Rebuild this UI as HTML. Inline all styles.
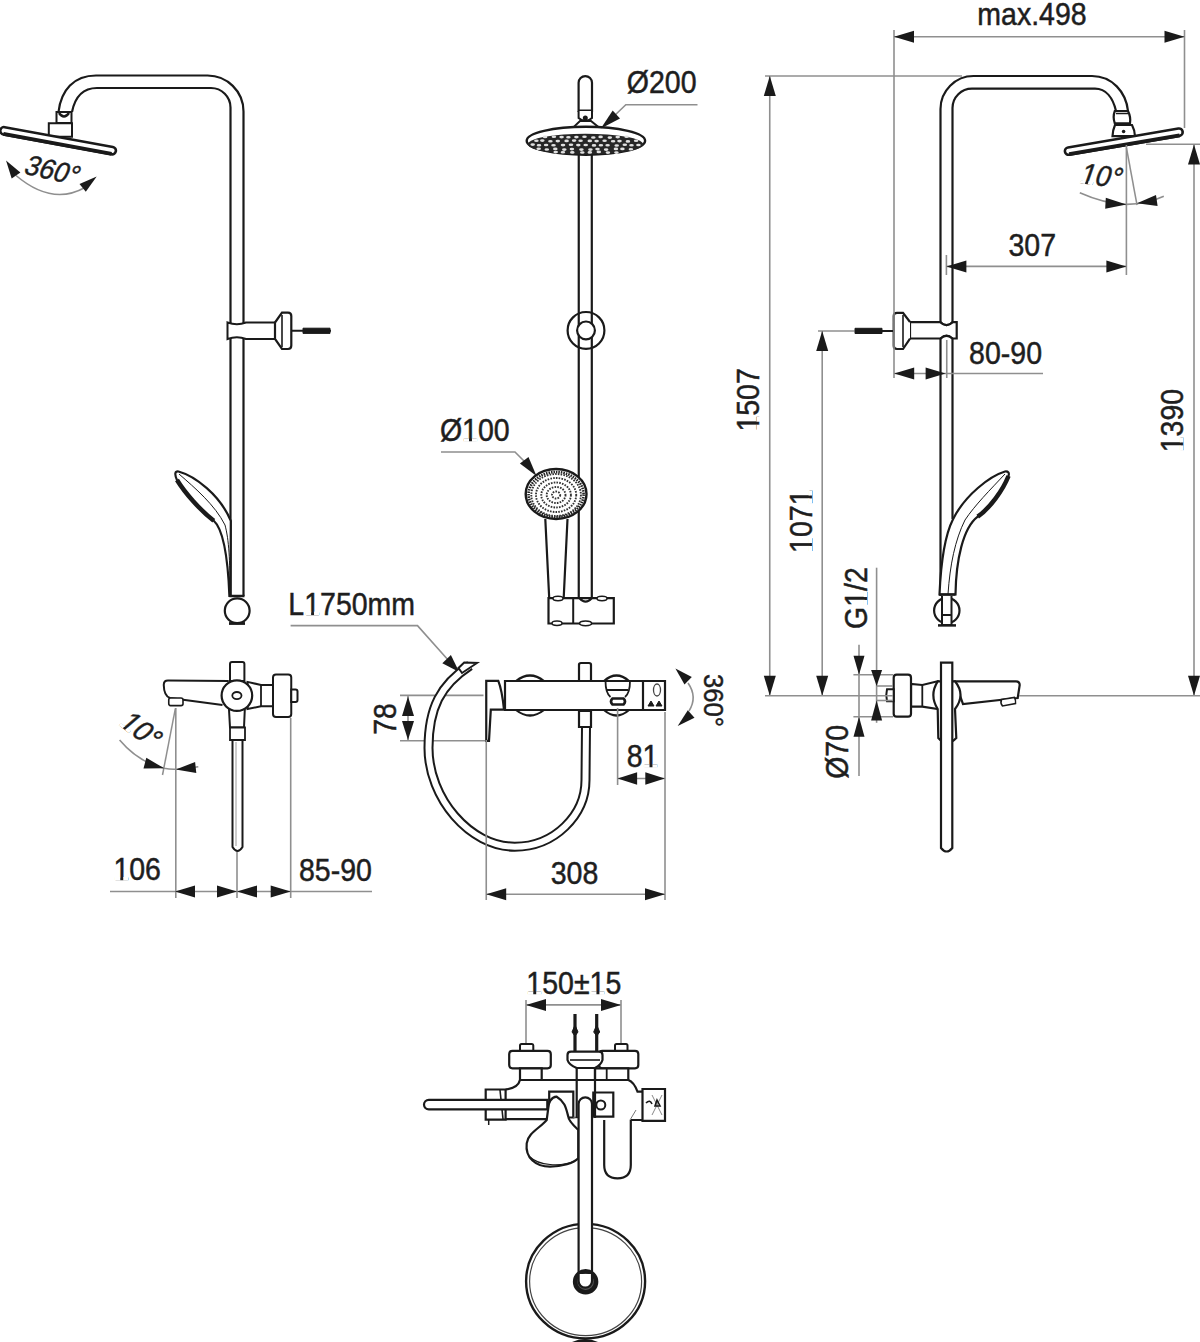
<!DOCTYPE html>
<html><head><meta charset="utf-8"><style>
html,body{margin:0;padding:0;background:#fff;}
svg{display:block;}
text{font-family:"Liberation Sans",sans-serif;fill:#1e1e1e;stroke:#1e1e1e;stroke-width:0.45px;}
</style></head><body>
<svg width="1200" height="1342" viewBox="0 0 1200 1342">
<rect width="1200" height="1342" fill="#fff"/>
<path d="M58.5,112 C61,90 74,75.5 96,75.5 L207,75.5 A36,36 0 0 1 243.5,111.5 L243.5,596" stroke="#1a1a1a" stroke-width="2.2" fill="none" />
<path d="M72,112 C75,97 83,88 97,88 L211,88 A19.5,19.5 0 0 1 230.5,107.5 L230.5,596" stroke="#1a1a1a" stroke-width="2.2" fill="none" />
<path d="M56.5,112 L71.5,112 L71.5,123 L56.5,123 Z" stroke="#1a1a1a" stroke-width="2" fill="#fff" />
<path d="M59,113 Q64,120 69,113" stroke="#1a1a1a" stroke-width="2.5" fill="none" />
<path d="M48.8,123.3 L72,123.3 L72,136.8 L48.8,136.8 Z" stroke="#1a1a1a" stroke-width="2" fill="#fff" />
<g transform="translate(4,130.8) rotate(10.4)">
<path d="M0,-3.7 L110,-3.7 A3.7,3.7 0 0 1 110,3.7 L0,3.7 A3.7,3.7 0 0 1 0,-3.7 Z" stroke="#1a1a1a" stroke-width="2.6" fill="#fff" />
<path d="M0,3.2 L110,3.2" stroke="#1a1a1a" stroke-width="3.8" fill="none" />
</g>
<path d="M16,175.5 Q52,206 85,187.5" stroke="#8f8f8f" stroke-width="1.6" fill="none" />
<polygon points="6.0,160.6 20.4,172.6 11.7,178.5" fill="#1a1a1a"/>
<polygon points="96.7,176.6 85.8,191.8 79.5,184.0" fill="#1a1a1a"/>
<g transform="translate(48.88,179.40) rotate(13) scale(0.92,0.9936000000000001) skewX(-12)"><text x="0" y="0" font-size="28.5" text-anchor="middle">360°</text></g>
<path d="M227.5,322.5 Q237,326 246,322.5 L275,322.5 L275,339 L246,339 Q237,335.5 227.5,339 Z" stroke="#1a1a1a" stroke-width="2" fill="#fff" />
<path d="M275,322.5 L282,312.6 L288,312.6 Q291.3,312.6 291.3,316 L291.3,345.6 Q291.3,349 288,349 L282,349 L275,339 Z" stroke="#1a1a1a" stroke-width="2.2" fill="#fff" />
<path d="M282,315 L282,347" stroke="#1a1a1a" stroke-width="1.6" fill="none" />
<line x1="291.3" y1="330.8" x2="331" y2="330.8" stroke="#1a1a1a" stroke-width="2"/>
<path d="M303,328.2 L330,328.2 L330,333.4 L303,333.4 Z" stroke="#1a1a1a" stroke-width="1" fill="#1a1a1a" />
<path d="M229.4,596 C228,560 224,530 213.8,520.8 C200,510 185,493 177,480 Q173,471 178.5,471.5 C195,476 220,495 230.8,520.8 L230.5,596 Z" stroke="#1a1a1a" stroke-width="2.2" fill="#fff" />
<path d="M177,480 C185,493 200,510 213.8,520.8" stroke="#1a1a1a" stroke-width="4.5" fill="none" />
<path d="M179,474 C195,488 215,505 225,525 C229,540 230,560 230,592" stroke="#1a1a1a" stroke-width="1" fill="none" />
<path d="M229.4,596 L244.5,596" stroke="#1a1a1a" stroke-width="2.5" fill="none" />
<circle cx="237.2" cy="610.8" r="12.4" stroke="#1a1a1a" stroke-width="2.2" fill="#fff"/>
<path d="M229,623.5 L245,623.5" stroke="#1a1a1a" stroke-width="2.8" fill="none" />
<path d="M228.75,681 L168,680.6 Q163.75,680.6 163.75,685 Q164,696 170,698 L222.5,705" stroke="#1a1a1a" stroke-width="2" fill="#fff" />
<path d="M170.5,698 L181,698 Q183,698 183,700 L183,704 Q183,705.6 181,705.6 L170.5,705.6 Q168.75,705.6 168.75,703.6 L168.75,700 Q168.75,698 170.5,698 Z" stroke="#1a1a1a" stroke-width="1.6" fill="#fff" />
<path d="M232,661.9 L242.4,661.9 Q244.4,661.9 244.4,664 L244.4,681 L230,681 L230,664 Q230,661.9 232,661.9 Z" stroke="#1a1a1a" stroke-width="2" fill="#fff" />
<path d="M228.75,705 L230,727.5 L244,727.5 L245,705 Z" stroke="#1a1a1a" stroke-width="2" fill="#fff" />
<path d="M230,727.5 L245,727.5 L245,740 L230,740 Z" stroke="#1a1a1a" stroke-width="1.8" fill="#fff" />
<path d="M232.5,740 L242.5,740 L242.5,847 Q237.5,855 232.5,847 Z" stroke="#1a1a1a" stroke-width="2" fill="#fff" />
<line x1="236" y1="742" x2="236" y2="846" stroke="#aaa" stroke-width="1.2"/>
<path d="M247.5,681.9 L261,685 L273,685 L273,706.25 L261,706.25 L247.5,709 Z" stroke="#1a1a1a" stroke-width="2" fill="#fff" />
<path d="M261,685 L261,706.25" stroke="#1a1a1a" stroke-width="1.8" fill="none" />
<path d="M276,674.4 L288.25,674.4 Q291.25,674.4 291.25,677.4 L291.25,713.9 Q291.25,716.9 288.25,716.9 L276,716.9 Q273,716.9 273,713.9 L273,677.4 Q273,674.4 276,674.4 Z" stroke="#1a1a1a" stroke-width="2" fill="#fff" />
<path d="M291.25,689.4 L295.5,689.4 Q297.5,689.4 297.5,691.4 L297.5,699.9 Q297.5,701.9 295.5,701.9 L291.25,701.9 Z" stroke="#1a1a1a" stroke-width="2" fill="#fff" />
<circle cx="236.9" cy="695.6" r="15.3" stroke="#1a1a1a" stroke-width="2.2" fill="#fff"/>
<ellipse cx="236.9" cy="695.6" rx="4.6" ry="3.6" stroke="#1a1a1a" stroke-width="1.8" fill="#fff"/>
<line x1="175.4" y1="708.3" x2="162.5" y2="775" stroke="#8f8f8f" stroke-width="1.5"/>
<path d="M119.6,740 Q138,762 164.2,768.3 Q170,769.5 176.7,769.2 Q188,768.5 198.3,766.7" stroke="#8f8f8f" stroke-width="1.6" fill="none" />
<polygon points="164.2,768.3 143.5,768.4 146.3,757.8" fill="#1a1a1a"/>
<polygon points="175.8,769.6 195.1,762.0 196.3,773.0" fill="#1a1a1a"/>
<g transform="translate(133.99,736.57) rotate(38) scale(0.95,1.026) skewX(-12)"><text x="0" y="0" font-size="28.5" text-anchor="middle">10°</text><rect x="-20.13" y="-2.74" width="5.50" height="3.24" fill="#fff"/><rect x="-11.69" y="-2.74" width="5.13" height="3.24" fill="#fff"/></g>
<line x1="175.8" y1="708" x2="175.8" y2="898" stroke="#8f8f8f" stroke-width="1.6"/>
<line x1="237" y1="852" x2="237" y2="898" stroke="#8f8f8f" stroke-width="1.6"/>
<line x1="290.7" y1="718" x2="290.7" y2="898" stroke="#8f8f8f" stroke-width="1.6"/>
<line x1="110" y1="891.5" x2="372" y2="891.5" stroke="#8f8f8f" stroke-width="1.6"/>
<polygon points="175.0,891.5 195.0,885.5 195.0,897.5" fill="#1a1a1a"/>
<polygon points="237.0,891.5 217.0,897.5 217.0,885.5" fill="#1a1a1a"/>
<polygon points="237.0,891.5 257.0,885.5 257.0,897.5" fill="#1a1a1a"/>
<polygon points="290.7,891.5 270.7,897.5 270.7,885.5" fill="#1a1a1a"/>
<g transform="translate(137.15,879.95) rotate(0) scale(1.0,1.08)"><text x="0" y="0" font-size="28.5" text-anchor="middle">106</text><rect x="-22.36" y="-2.74" width="5.50" height="3.24" fill="#fff"/><rect x="-13.92" y="-2.74" width="5.13" height="3.24" fill="#fff"/></g>
<g transform="translate(335.40,880.50) rotate(0) scale(1.0,1.08)"><text x="0" y="0" font-size="28.5" text-anchor="middle">85-90</text></g>
<path d="M578.6,111 L578.6,82.8 A6.7,6.7 0 0 1 592,82.8 L592,111 Z" stroke="#1a1a1a" stroke-width="2.2" fill="#fff" />
<path d="M578.6,111 L592,111" stroke="#1a1a1a" stroke-width="3" fill="none" />
<path d="M578.6,111 L578.6,118 Q585.3,124 592,118 L592,111" stroke="#1a1a1a" stroke-width="2" fill="#fff" />
<circle cx="585.3" cy="118" r="2.5" fill="#1a1a1a"/>
<path d="M580,121 L591,121 L599,127.4 L573.3,127.4 Z" stroke="#1a1a1a" stroke-width="2" fill="#fff" />
<ellipse cx="585.9" cy="140.8" rx="59.2" ry="14" stroke="#1a1a1a" stroke-width="2.4" fill="#fff"/>
<ellipse cx="585.5" cy="144.2" rx="57.6" ry="10.4" fill="#262626"/>
<g fill="#e0e0e0">
<ellipse cx="545.1" cy="136.9" rx="2.3" ry="1.3"/>
<ellipse cx="553.9" cy="136.8" rx="2.3" ry="1.3"/>
<ellipse cx="561.6" cy="137.1" rx="2.3" ry="1.3"/>
<ellipse cx="568.4" cy="137.2" rx="2.3" ry="1.3"/>
<ellipse cx="576.4" cy="137.1" rx="2.3" ry="1.3"/>
<ellipse cx="584.5" cy="136.8" rx="2.3" ry="1.3"/>
<ellipse cx="593.3" cy="137.5" rx="2.3" ry="1.3"/>
<ellipse cx="600.6" cy="136.9" rx="2.3" ry="1.3"/>
<ellipse cx="609.8" cy="137.6" rx="2.3" ry="1.3"/>
<ellipse cx="617.7" cy="137.1" rx="2.3" ry="1.3"/>
<ellipse cx="626.6" cy="136.7" rx="2.3" ry="1.3"/>
<ellipse cx="536.4" cy="140.8" rx="2.3" ry="1.3"/>
<ellipse cx="542.3" cy="140.6" rx="2.3" ry="1.3"/>
<ellipse cx="550.4" cy="141.3" rx="2.3" ry="1.3"/>
<ellipse cx="557.8" cy="141.1" rx="2.3" ry="1.3"/>
<ellipse cx="566.6" cy="140.9" rx="2.3" ry="1.3"/>
<ellipse cx="574.1" cy="140.6" rx="2.3" ry="1.3"/>
<ellipse cx="580.6" cy="140.7" rx="2.3" ry="1.3"/>
<ellipse cx="589.8" cy="140.9" rx="2.3" ry="1.3"/>
<ellipse cx="596.6" cy="141.1" rx="2.3" ry="1.3"/>
<ellipse cx="604.6" cy="140.8" rx="2.3" ry="1.3"/>
<ellipse cx="613.1" cy="141.2" rx="2.3" ry="1.3"/>
<ellipse cx="619.5" cy="141.1" rx="2.3" ry="1.3"/>
<ellipse cx="627.9" cy="141.4" rx="2.3" ry="1.3"/>
<ellipse cx="636.1" cy="140.8" rx="2.3" ry="1.3"/>
<ellipse cx="532.7" cy="144.6" rx="2.3" ry="1.3"/>
<ellipse cx="539.0" cy="145.3" rx="2.3" ry="1.3"/>
<ellipse cx="546.1" cy="145.0" rx="2.3" ry="1.3"/>
<ellipse cx="553.5" cy="145.2" rx="2.3" ry="1.3"/>
<ellipse cx="563.0" cy="145.1" rx="2.3" ry="1.3"/>
<ellipse cx="571.0" cy="144.8" rx="2.3" ry="1.3"/>
<ellipse cx="578.3" cy="145.1" rx="2.3" ry="1.3"/>
<ellipse cx="585.7" cy="145.0" rx="2.3" ry="1.3"/>
<ellipse cx="594.0" cy="145.4" rx="2.3" ry="1.3"/>
<ellipse cx="600.9" cy="145.2" rx="2.3" ry="1.3"/>
<ellipse cx="607.6" cy="145.2" rx="2.3" ry="1.3"/>
<ellipse cx="616.7" cy="145.5" rx="2.3" ry="1.3"/>
<ellipse cx="624.8" cy="144.8" rx="2.3" ry="1.3"/>
<ellipse cx="631.5" cy="145.2" rx="2.3" ry="1.3"/>
<ellipse cx="638.4" cy="145.0" rx="2.3" ry="1.3"/>
<ellipse cx="538.7" cy="148.8" rx="2.3" ry="1.3"/>
<ellipse cx="546.8" cy="149.5" rx="2.3" ry="1.3"/>
<ellipse cx="555.3" cy="148.9" rx="2.3" ry="1.3"/>
<ellipse cx="564.3" cy="149.6" rx="2.3" ry="1.3"/>
<ellipse cx="571.9" cy="149.1" rx="2.3" ry="1.3"/>
<ellipse cx="581.4" cy="149.6" rx="2.3" ry="1.3"/>
<ellipse cx="590.4" cy="149.6" rx="2.3" ry="1.3"/>
<ellipse cx="597.5" cy="149.1" rx="2.3" ry="1.3"/>
<ellipse cx="606.1" cy="149.6" rx="2.3" ry="1.3"/>
<ellipse cx="615.9" cy="148.9" rx="2.3" ry="1.3"/>
<ellipse cx="622.4" cy="148.9" rx="2.3" ry="1.3"/>
<ellipse cx="630.9" cy="149.2" rx="2.3" ry="1.3"/>
<ellipse cx="555.7" cy="152.1" rx="2.3" ry="1.3"/>
<ellipse cx="562.9" cy="152.2" rx="2.3" ry="1.3"/>
<ellipse cx="572.3" cy="152.4" rx="2.3" ry="1.3"/>
<ellipse cx="582.3" cy="152.5" rx="2.3" ry="1.3"/>
<ellipse cx="589.8" cy="152.4" rx="2.3" ry="1.3"/>
<ellipse cx="598.8" cy="151.9" rx="2.3" ry="1.3"/>
<ellipse cx="607.9" cy="152.6" rx="2.3" ry="1.3"/>
<ellipse cx="616.4" cy="152.6" rx="2.3" ry="1.3"/>
</g>
<path d="M578.75,155 L578.75,599 M591.8,155 L591.8,599" stroke="#1a1a1a" stroke-width="2.2" fill="none" />
<circle cx="586" cy="330.4" r="18.4" stroke="#1a1a1a" stroke-width="2.2" fill="none"/>
<circle cx="586" cy="330.4" r="8.9" stroke="#1a1a1a" stroke-width="2.2" fill="#fff"/>
<g transform="translate(661.70,93.10) rotate(0) scale(1.0,1.08)"><text x="0" y="0" font-size="28.5" text-anchor="middle">Ø200</text></g>
<path d="M697.5,104.7 L625.8,104.7 L612,118" stroke="#8f8f8f" stroke-width="1.6" fill="none" />
<polygon points="600.8,128.6 612.7,110.5 620.0,118.6" fill="#1a1a1a"/>
<g transform="translate(474.80,441.25) rotate(0) scale(1.0,1.08)"><text x="0" y="0" font-size="28.5" text-anchor="middle">Ø100</text><rect x="-11.29" y="-2.74" width="5.50" height="3.24" fill="#fff"/><rect x="-2.85" y="-2.74" width="5.13" height="3.24" fill="#fff"/></g>
<path d="M441,452 L515,452 L530,467" stroke="#8f8f8f" stroke-width="1.6" fill="none" />
<polygon points="536.5,476.0 519.9,463.6 528.5,456.9" fill="#1a1a1a"/>
<path d="M545.3,519 L549.2,598 M567.5,519 L563.7,598" stroke="#1a1a1a" stroke-width="2.2" fill="none" />
<ellipse cx="556.1" cy="494" rx="30.4" ry="25" stroke="#1a1a1a" stroke-width="2.4" fill="#fff"/>
<ellipse cx="556.1" cy="494.5" rx="27.5" ry="22.5" stroke="#222" stroke-width="2.6" stroke-dasharray="1.5 1" fill="none"/>
<ellipse cx="556.1" cy="495" rx="4.1" ry="3.5" stroke="#333" stroke-width="1.9" stroke-dasharray="1.6 1.2" fill="none"/>
<ellipse cx="556.1" cy="495" rx="9.4" ry="8.0" stroke="#333" stroke-width="1.9" stroke-dasharray="1.6 1.2" fill="none"/>
<ellipse cx="556.1" cy="495" rx="14.8" ry="12.5" stroke="#333" stroke-width="1.9" stroke-dasharray="1.6 1.2" fill="none"/>
<ellipse cx="556.1" cy="495" rx="20.1" ry="17.0" stroke="#333" stroke-width="1.9" stroke-dasharray="1.6 1.2" fill="none"/>
<ellipse cx="556.1" cy="495" rx="24.8" ry="21.0" stroke="#333" stroke-width="1.9" stroke-dasharray="1.6 1.2" fill="none"/>
<path d="M548.5,598.2 L613.8,598.2 L613.8,623.5 L548.5,623.5 Z" stroke="#1a1a1a" stroke-width="2.2" fill="#fff" />
<path d="M579.6,598.2 Q585.6,605 591.6,598.2" stroke="#1a1a1a" stroke-width="2.2" fill="none" />
<ellipse cx="558" cy="598.5" rx="5" ry="2.2" stroke="#1a1a1a" stroke-width="1.5" fill="#fff"/>
<ellipse cx="602" cy="598.5" rx="5" ry="2.2" stroke="#1a1a1a" stroke-width="1.5" fill="#fff"/>
<ellipse cx="557" cy="623.3" rx="5" ry="2.2" stroke="#1a1a1a" stroke-width="1.5" fill="#fff"/>
<ellipse cx="585.6" cy="623.3" rx="6" ry="2.4" stroke="#1a1a1a" stroke-width="1.5" fill="#fff"/>
<path d="M573.2,598.2 L573.2,623.5" stroke="#1a1a1a" stroke-width="2" fill="none" />
<path d="M940.5,596 L940.5,109 A33,33 0 0 1 973.5,76 L1092,76 C1112,76 1126,92 1128,111" stroke="#1a1a1a" stroke-width="2.2" fill="none" />
<path d="M952.5,519 L952.5,108 A19.5,19.5 0 0 1 972,88.7 L1095,88.7 C1106,88.7 1113,98 1116,111" stroke="#1a1a1a" stroke-width="2.2" fill="none" />
<path d="M1114.8,111 L1128,111 Q1131,117 1130,123.3 L1114.8,123.3 Q1112.5,117 1114.8,111 Z" stroke="#1a1a1a" stroke-width="2.2" fill="#fff" />
<path d="M1116,113.5 L1128,113.5" stroke="#1a1a1a" stroke-width="1.5" fill="none" />
<path d="M1115,125 L1132,125 Q1134.7,130 1135,136.2 L1112.5,136.2 Q1112.8,130 1115,125 Z" stroke="#1a1a1a" stroke-width="2.2" fill="#fff" />
<circle cx="1123.6" cy="131.5" r="1.8" fill="#1a1a1a"/>
<g transform="translate(1179,132.2) rotate(-9.7)">
<path d="M0,-3.7 L-112,-3.7 A3.7,3.7 0 0 0 -112,3.7 L0,3.7 A3.7,3.7 0 0 0 0,-3.7 Z" stroke="#1a1a1a" stroke-width="2.6" fill="#fff" />
<path d="M0,3.2 L-112,3.2" stroke="#1a1a1a" stroke-width="3.8" fill="none" />
</g>
<path d="M956.7,322.2 L952.5,322.2 Q946.5,328 940.5,322.2 L910,322.2 L910,338.5 L940.5,338.5 Q946.5,333 952.5,338.5 L956.7,338.5 Z" stroke="#1a1a1a" stroke-width="2.2" fill="#fff" />
<path d="M940.5,322.2 Q946.5,328 952.5,322.2 M940.5,338.5 Q946.5,333 952.5,338.5" stroke="#1a1a1a" stroke-width="2" fill="none" />
<path d="M910,322 L903,312.8 L897,312.8 Q893.7,312.8 893.7,316 L893.7,345.8 Q893.7,349 897,349 L903,349 L910,338.7" stroke="#1a1a1a" stroke-width="2.2" fill="#fff" />
<path d="M903,315 L903,347" stroke="#1a1a1a" stroke-width="1.6" fill="none" />
<line x1="854" y1="330.9" x2="893.7" y2="330.9" stroke="#1a1a1a" stroke-width="2"/>
<path d="M855,328.3 L882,328.3 L882,333.5 L855,333.5 Z" stroke="#1a1a1a" stroke-width="1" fill="#1a1a1a" />
<path d="M939.5,594.5 C941,560 945,535 952.9,519.4 C965,495 990,476 1005,471.5 Q1010,471 1008.5,476 C1003,490 990,508 977.7,516.7 C963,528 956,560 955.5,594.5 Z" stroke="#1a1a1a" stroke-width="2.2" fill="#fff" />
<path d="M1008.5,476 C1003,490 990,508 977.7,516.7" stroke="#1a1a1a" stroke-width="4.5" fill="none" />
<path d="M1005,474 C990,490 975,505 965,520 C955,540 950,565 948,594" stroke="#1a1a1a" stroke-width="1" fill="none" />
<path d="M939.5,594.5 L955.5,594.5" stroke="#1a1a1a" stroke-width="2.5" fill="none" />
<circle cx="946.8" cy="610.6" r="12.7" stroke="#1a1a1a" stroke-width="2.2" fill="#fff"/>
<path d="M942,596 L942,625 L951.5,625 L951.5,596 M942,615 L951.5,615" stroke="#1a1a1a" stroke-width="2" fill="#fff" />
<path d="M938,625.4 L956,625.4" stroke="#1a1a1a" stroke-width="2.5" fill="none" />
<path d="M955,681.3 L1016,681.3 Q1019.7,681.3 1019.7,685 L1017.7,698 L963,704 Z" stroke="#1a1a1a" stroke-width="2.2" fill="#fff" />
<path d="M1001.5,699.5 L1014.5,697.5 Q1016,700.5 1015.5,703.5 L1002.5,706 Q1000,703 1001.5,699.5 Z" stroke="#1a1a1a" stroke-width="1.6" fill="#fff" />
<path d="M937.7,681.3 L922.3,685 L911,684 L911,706.7 L922.3,706.7 L937.7,709 Z" stroke="#1a1a1a" stroke-width="2.2" fill="#fff" />
<path d="M922.3,685 L922.3,706.7" stroke="#1a1a1a" stroke-width="1.8" fill="none" />
<path d="M896.7,674.7 L908,674.7 Q911,674.7 911,677.7 L911,713.7 Q911,716.7 908,716.7 L896.7,716.7 Q893.7,716.7 893.7,713.7 L893.7,677.7 Q893.7,674.7 896.7,674.7 Z" stroke="#1a1a1a" stroke-width="2.2" fill="#fff" />
<path d="M887,689.3 L893.7,689.3 L893.7,701.3 L887,701.3 Q885.5,695.3 887,689.3 Z" stroke="#1a1a1a" stroke-width="2" fill="#fff" />
<path d="M937.7,681.3 Q929,695 937.7,709 L938.3,738 Q947,748 956.3,738 L955,709 Q966,695 955,681.3 Z" stroke="#1a1a1a" stroke-width="2.2" fill="#fff" />
<path d="M941,662.7 L952.3,662.7 L952.3,848 Q946.6,855 941,848 Z" stroke="#1a1a1a" stroke-width="2.2" fill="#fff" />
<line x1="894" y1="30" x2="894" y2="378" stroke="#8f8f8f" stroke-width="1.6"/>
<line x1="1184.5" y1="30" x2="1184.5" y2="128" stroke="#8f8f8f" stroke-width="1.6"/>
<line x1="894" y1="36.8" x2="1184.5" y2="36.8" stroke="#8f8f8f" stroke-width="1.6"/>
<polygon points="894.0,36.8 914.0,30.8 914.0,42.8" fill="#1a1a1a"/>
<polygon points="1184.5,36.8 1164.5,42.8 1164.5,30.8" fill="#1a1a1a"/>
<g transform="translate(1031.95,25.05) rotate(0) scale(1.0,1.08)"><text x="0" y="0" font-size="28.5" text-anchor="middle">max.498</text></g>
<line x1="765" y1="76" x2="962" y2="76" stroke="#8f8f8f" stroke-width="1.6"/>
<line x1="769.75" y1="76" x2="769.75" y2="695.8" stroke="#8f8f8f" stroke-width="1.6"/>
<polygon points="769.8,76.0 775.8,96.0 763.8,96.0" fill="#1a1a1a"/>
<polygon points="769.8,695.8 763.8,675.8 775.8,675.8" fill="#1a1a1a"/>
<g transform="translate(759.45,399.90) rotate(-90) scale(1.0,1.08)"><text x="0" y="0" font-size="28.5" text-anchor="middle">1507</text><rect x="-30.28" y="-2.74" width="5.50" height="3.24" fill="#fff"/><rect x="-21.84" y="-2.74" width="5.13" height="3.24" fill="#fff"/></g>
<line x1="818" y1="331" x2="855" y2="331" stroke="#8f8f8f" stroke-width="1.6"/>
<line x1="822.2" y1="331" x2="822.2" y2="695.8" stroke="#8f8f8f" stroke-width="1.6"/>
<polygon points="822.2,331.0 828.2,351.0 816.2,351.0" fill="#1a1a1a"/>
<polygon points="822.2,695.8 816.2,675.8 828.2,675.8" fill="#1a1a1a"/>
<g transform="translate(811.55,521.20) rotate(-90) scale(1.0,1.08)"><text x="0" y="0" font-size="28.5" text-anchor="middle">1071</text><rect x="-30.28" y="-2.74" width="5.50" height="3.24" fill="#fff"/><rect x="-21.84" y="-2.74" width="5.13" height="3.24" fill="#fff"/><rect x="17.27" y="-2.74" width="5.50" height="3.24" fill="#fff"/><rect x="25.70" y="-2.74" width="5.13" height="3.24" fill="#fff"/></g>
<line x1="1146" y1="144.3" x2="1200" y2="144.3" stroke="#8f8f8f" stroke-width="1.6"/>
<line x1="1194" y1="144.5" x2="1194" y2="695.8" stroke="#8f8f8f" stroke-width="1.6"/>
<polygon points="1194.0,144.5 1200.0,164.5 1188.0,164.5" fill="#1a1a1a"/>
<polygon points="1194.0,695.8 1188.0,675.8 1200.0,675.8" fill="#1a1a1a"/>
<g transform="translate(1182.80,420.60) rotate(-90) scale(1.0,1.08)"><text x="0" y="0" font-size="28.5" text-anchor="middle">1390</text><rect x="-30.28" y="-2.74" width="5.50" height="3.24" fill="#fff"/><rect x="-21.84" y="-2.74" width="5.13" height="3.24" fill="#fff"/></g>
<line x1="946.4" y1="255" x2="946.4" y2="275" stroke="#8f8f8f" stroke-width="1.6"/>
<line x1="1126.4" y1="145" x2="1126.4" y2="275" stroke="#8f8f8f" stroke-width="1.6"/>
<line x1="946.4" y1="266.4" x2="1126.4" y2="266.4" stroke="#8f8f8f" stroke-width="1.6"/>
<polygon points="946.4,266.4 966.4,260.4 966.4,272.4" fill="#1a1a1a"/>
<polygon points="1126.4,266.4 1106.4,272.4 1106.4,260.4" fill="#1a1a1a"/>
<g transform="translate(1032.25,256.00) rotate(0) scale(1.0,1.08)"><text x="0" y="0" font-size="28.5" text-anchor="middle">307</text></g>
<line x1="1126.5" y1="148" x2="1137" y2="205" stroke="#8f8f8f" stroke-width="1.5"/>
<path d="M1079.8,192.75 Q1105,204 1126.5,204.4 Q1147,204 1163.8,196.25" stroke="#8f8f8f" stroke-width="1.6" fill="none" />
<polygon points="1126.5,204.4 1105.2,208.8 1105.8,197.8" fill="#1a1a1a"/>
<polygon points="1137.0,203.2 1156.0,195.0 1157.6,205.9" fill="#1a1a1a"/>
<g transform="translate(1098.69,185.52) rotate(8) scale(0.95,1.026) skewX(-12)"><text x="0" y="0" font-size="28.5" text-anchor="middle">10°</text><rect x="-20.13" y="-2.74" width="5.50" height="3.24" fill="#fff"/><rect x="-11.69" y="-2.74" width="5.13" height="3.24" fill="#fff"/></g>
<line x1="946.75" y1="340" x2="946.75" y2="378" stroke="#8f8f8f" stroke-width="1.6"/>
<line x1="894.25" y1="373.5" x2="1043" y2="373.5" stroke="#8f8f8f" stroke-width="1.6"/>
<polygon points="894.2,373.5 914.2,367.5 914.2,379.5" fill="#1a1a1a"/>
<polygon points="945.6,373.5 925.6,379.5 925.6,367.5" fill="#1a1a1a"/>
<g transform="translate(1005.55,363.65) rotate(0) scale(1.0,1.08)"><text x="0" y="0" font-size="28.5" text-anchor="middle">80-90</text></g>
<line x1="765" y1="695.8" x2="893" y2="695.8" stroke="#8f8f8f" stroke-width="1.6"/>
<line x1="1019" y1="695.8" x2="1200" y2="695.8" stroke="#8f8f8f" stroke-width="1.6"/>
<line x1="859" y1="644.8" x2="859" y2="776" stroke="#8f8f8f" stroke-width="1.6"/>
<polygon points="859.0,674.8 853.5,655.8 864.5,655.8" fill="#1a1a1a"/>
<polygon points="859.0,716.8 864.5,736.8 853.5,736.8" fill="#1a1a1a"/>
<line x1="853.4" y1="674.8" x2="893" y2="674.8" stroke="#8f8f8f" stroke-width="1.6"/>
<line x1="853.4" y1="716.8" x2="893" y2="716.8" stroke="#8f8f8f" stroke-width="1.6"/>
<line x1="876" y1="686" x2="893" y2="686" stroke="#8f8f8f" stroke-width="1.6"/>
<line x1="876" y1="700.5" x2="893" y2="700.5" stroke="#8f8f8f" stroke-width="1.6"/>
<g transform="translate(847.95,751.90) rotate(-90) scale(1.0,1.08)"><text x="0" y="0" font-size="28.5" text-anchor="middle">Ø70</text></g>
<line x1="876.6" y1="567.7" x2="876.6" y2="722.8" stroke="#8f8f8f" stroke-width="1.6"/>
<polygon points="876.6,686.0 871.1,670.0 882.1,670.0" fill="#1a1a1a"/>
<polygon points="876.6,700.5 882.1,720.5 871.1,720.5" fill="#1a1a1a"/>
<g transform="translate(866.60,598.15) rotate(-90) scale(1.0,1.08)"><text x="0" y="0" font-size="28.5" text-anchor="middle">G1/2</text><rect x="-7.32" y="-2.74" width="5.50" height="3.24" fill="#fff"/><rect x="1.12" y="-2.74" width="5.13" height="3.24" fill="#fff"/></g>
<g transform="translate(351.70,614.60) rotate(0) scale(1.0,1.08)"><text x="0" y="0" font-size="28.5" text-anchor="middle">L1750mm</text><rect x="-46.10" y="-2.74" width="5.50" height="3.24" fill="#fff"/><rect x="-37.66" y="-2.74" width="5.13" height="3.24" fill="#fff"/></g>
<path d="M290.6,625.6 L417.5,625.6 L449,661" stroke="#8f8f8f" stroke-width="1.6" fill="none" />
<polygon points="459.2,672.0 442.3,663.3 450.9,654.9" fill="#1a1a1a"/>
<line x1="400" y1="695.4" x2="483.5" y2="695.4" stroke="#8f8f8f" stroke-width="1.6"/>
<line x1="400" y1="740.8" x2="486" y2="740.8" stroke="#8f8f8f" stroke-width="1.6"/>
<path d="M470,665.5 C440.6,684.75 428.5,708 428.5,748 C428.5,798 469.7,846.7 514.7,846.7 C554.7,846.7 585.5,815 585.5,780 L586,727" stroke="#1a1a1a" stroke-width="10" fill="none" />
<path d="M470,665.5 C440.6,684.75 428.5,708 428.5,748 C428.5,798 469.7,846.7 514.7,846.7 C554.7,846.7 585.5,815 585.5,780 L586,727" stroke="#fff" stroke-width="6" fill="none" />
<path d="M464.2,662.5 L477,663 L462,673 L458.5,668 Z" stroke="#1a1a1a" stroke-width="2" fill="#fff" />
<path d="M579,711 L591,711 L591,727 L579,727 Z" stroke="#1a1a1a" stroke-width="2.2" fill="#fff" />
<path d="M505,681 L665,681 L665,710 L505,710 Z" stroke="#1a1a1a" stroke-width="2.2" fill="#fff" />
<path d="M516,681 Q530,670 544,681 M516,710 Q530,721 544,710" stroke="#1a1a1a" stroke-width="2.2" fill="none" />
<path d="M604,681 Q616.5,670 629,681 M604,710 Q616.5,721 629,710" stroke="#1a1a1a" stroke-width="2.2" fill="none" />
<path d="M486.25,680.8 L498.3,680.8 Q502,690 504,709.6 L490.8,709.6 L489,740.8 L486.25,740.8 Z" stroke="#1a1a1a" stroke-width="2.2" fill="#fff" />
<path d="M579,664.5 Q579,663 581,663 L589,663 Q591,663 591,664.5 L591,681 L579,681 Z" stroke="#1a1a1a" stroke-width="2.2" fill="#fff" />
<path d="M643,681 L643,710" stroke="#1a1a1a" stroke-width="2.2" fill="none" />
<path d="M605.5,681 Q605.5,693 610.5,697 M630,681 Q630,693 625,697 M607,690 L628,690" stroke="#1a1a1a" stroke-width="1.8" fill="none" />
<path d="M612.5,698.5 L623.5,698.5 Q626.5,701.5 623.5,704.5 L612.5,704.5 Q609.5,701.5 612.5,698.5 Z" stroke="#1a1a1a" stroke-width="2.6" fill="#fff" />
<ellipse cx="657" cy="690" rx="3.5" ry="6" stroke="#444" stroke-width="1.3" fill="none"/>
<path d="M648,706 L651,701 L654,706 Z M656,706 L659,701 L662,706 Z" stroke="#1a1a1a" stroke-width="1" fill="#1a1a1a" />
<line x1="408" y1="695.4" x2="408" y2="740.8" stroke="#8f8f8f" stroke-width="1.6"/>
<polygon points="408.0,696.5 414.0,716.0 402.0,716.0" fill="#1a1a1a"/>
<polygon points="408.0,740.0 402.0,721.0 414.0,721.0" fill="#1a1a1a"/>
<g transform="translate(396.25,719.00) rotate(-90) scale(1.0,1.08)"><text x="0" y="0" font-size="28.5" text-anchor="middle">78</text></g>
<line x1="617.6" y1="708" x2="617.6" y2="785" stroke="#8f8f8f" stroke-width="1.6"/>
<line x1="665" y1="712" x2="665" y2="900" stroke="#8f8f8f" stroke-width="1.6"/>
<line x1="617.6" y1="778.5" x2="665" y2="778.5" stroke="#8f8f8f" stroke-width="1.6"/>
<polygon points="617.6,778.5 637.1,772.2 637.1,784.8" fill="#1a1a1a"/>
<polygon points="664.8,778.5 645.3,784.8 645.3,772.2" fill="#1a1a1a"/>
<g transform="translate(642.60,767.30) rotate(0) scale(1.0,1.08)"><text x="0" y="0" font-size="28.5" text-anchor="middle">81</text><rect x="1.42" y="-2.74" width="5.50" height="3.24" fill="#fff"/><rect x="9.85" y="-2.74" width="5.13" height="3.24" fill="#fff"/></g>
<line x1="486.25" y1="740" x2="486.25" y2="900" stroke="#8f8f8f" stroke-width="1.6"/>
<line x1="486.25" y1="894.25" x2="665" y2="894.25" stroke="#8f8f8f" stroke-width="1.6"/>
<polygon points="486.2,894.2 506.2,888.2 506.2,900.2" fill="#1a1a1a"/>
<polygon points="665.0,894.2 645.0,900.2 645.0,888.2" fill="#1a1a1a"/>
<g transform="translate(574.50,883.60) rotate(0) scale(1.0,1.08)"><text x="0" y="0" font-size="28.5" text-anchor="middle">308</text></g>
<path d="M688,683 Q697.8,697 689,711" stroke="#8f8f8f" stroke-width="1.6" fill="none" />
<polygon points="675.4,668.6 691.8,677.0 684.5,684.6" fill="#1a1a1a"/>
<polygon points="677.7,726.0 687.8,710.3 694.5,717.8" fill="#1a1a1a"/>
<g transform="translate(703.55,700.60) rotate(90) scale(0.9,0.9720000000000001)"><text x="0" y="0" font-size="28.5" text-anchor="middle">360°</text></g>
<g transform="translate(573.80,994.35) rotate(0) scale(1.0,1.08)"><text x="0" y="0" font-size="28.5" text-anchor="middle">150±15</text><rect x="-46.03" y="-2.74" width="5.50" height="3.24" fill="#fff"/><rect x="-37.59" y="-2.74" width="5.13" height="3.24" fill="#fff"/><rect x="17.16" y="-2.74" width="5.50" height="3.24" fill="#fff"/><rect x="25.60" y="-2.74" width="5.13" height="3.24" fill="#fff"/></g>
<line x1="526" y1="1004.9" x2="621" y2="1004.9" stroke="#8f8f8f" stroke-width="1.6"/>
<polygon points="526.0,1004.9 546.0,998.9 546.0,1010.9" fill="#1a1a1a"/>
<polygon points="621.0,1004.9 601.0,1010.9 601.0,998.9" fill="#1a1a1a"/>
<line x1="526" y1="1000" x2="526" y2="1045" stroke="#8f8f8f" stroke-width="1.6"/>
<line x1="621" y1="1000" x2="621" y2="1045" stroke="#8f8f8f" stroke-width="1.6"/>
<path d="M575,1014 L575,1052 M596.7,1014 L596.7,1052" stroke="#1a1a1a" stroke-width="3.2" fill="none" />
<path d="M572,1032 L575,1025 L578,1032 L575,1036 Z M593.7,1032 L596.7,1025 L599.7,1032 L596.7,1036 Z" stroke="#1a1a1a" stroke-width="1" fill="#1a1a1a" />
<path d="M521.5,1044 L532,1044 Q533.3,1044 533.3,1045.5 L533.3,1051 L520,1051 L520,1045.5 Q520,1044 521.5,1044 Z" stroke="#1a1a1a" stroke-width="2" fill="#fff" />
<path d="M616.5,1044 L626,1044 Q627.5,1044 627.5,1045.5 L627.5,1051 L615,1051 L615,1045.5 Q615,1044 616.5,1044 Z" stroke="#1a1a1a" stroke-width="2" fill="#fff" />
<path d="M512.5,1050.8 L547.5,1050.8 Q550.8,1050.8 550.8,1054 L550.8,1065 Q550.8,1068.3 547.5,1068.3 L512.5,1068.3 Q509.2,1068.3 509.2,1065 L509.2,1054 Q509.2,1050.8 512.5,1050.8 Z" stroke="#1a1a1a" stroke-width="2.2" fill="#fff" />
<path d="M602.5,1050.8 L635,1050.8 Q638.3,1050.8 638.3,1054 L638.3,1065 Q638.3,1068.3 635,1068.3 L602.5,1068.3 Q599,1068.3 599,1065 L599,1054 Q599,1050.8 602.5,1050.8 Z" stroke="#1a1a1a" stroke-width="2.2" fill="#fff" />
<path d="M520,1068.3 L541.7,1068.3 L541.7,1080 L520,1080 Z M595,1068.3 L628.3,1068.3 L628.3,1080 L595,1080 Z" stroke="#1a1a1a" stroke-width="2.2" fill="#fff" />
<path d="M606.7,1068.3 L606.7,1080" stroke="#1a1a1a" stroke-width="1.8" fill="none" />
<path d="M571,1051.7 L599,1051.7 Q602.5,1051.7 602.5,1055 L602.5,1060 Q601,1065 595,1068 L576.7,1068 Q569,1065 567.5,1060 L567.5,1055 Q567.5,1051.7 571,1051.7 Z" stroke="#1a1a1a" stroke-width="2.2" fill="#fff" />
<path d="M570,1060 L600,1060" stroke="#1a1a1a" stroke-width="1.6" fill="none" />
<path d="M520,1080 L628.3,1080 Q634,1082 637.5,1091.7 L642.5,1091.7 M520,1080 Q518,1088 505.6,1089.5" stroke="#1a1a1a" stroke-width="2.2" fill="none" />
<path d="M485.7,1089.5 L505.6,1089.5 L505.6,1119.7 L485.7,1119.7 Z" stroke="#1a1a1a" stroke-width="2.2" fill="#fff" />
<path d="M500,1090 L503,1119" stroke="#1a1a1a" stroke-width="1.6" fill="none" />
<path d="M488.7,1119.7 L488.7,1125" stroke="#1a1a1a" stroke-width="1.5" fill="none" />
<path d="M505.6,1119.1 L546.1,1119.1" stroke="#1a1a1a" stroke-width="2.2" fill="none" />
<path d="M428.8,1099.8 L547.3,1099.8 L547.3,1109.4 L428.8,1109.4 A4.8,4.8 0 0 1 428.8,1099.8 Z" stroke="#1a1a1a" stroke-width="2.2" fill="#fff" />
<path d="M642.5,1089 L665,1089 L665,1120.8 L642.5,1120.8 Z" stroke="#1a1a1a" stroke-width="2.2" fill="#fff" />
<path d="M652,1095 L662,1115 M662,1095 L652,1115" stroke="#888" stroke-width="1" fill="none" />
<path d="M646,1103 Q650,1099 652,1104 M657,1100 L660,1106 L655,1106 Z" stroke="#1a1a1a" stroke-width="1.6" fill="none" />
<path d="M630.8,1120 L642.5,1120" stroke="#1a1a1a" stroke-width="2" fill="none" />
<path d="M636,1110 L630,1120" stroke="#777" stroke-width="1" fill="none" />
<path d="M549.2,1091.7 L573.3,1091.7 L573.3,1117.5 L549.2,1117.5 Z" stroke="#1a1a1a" stroke-width="2.2" fill="#fff" />
<path d="M593.3,1092.5 L613.3,1092.5 L613.3,1116.7 L593.3,1116.7 Z" stroke="#1a1a1a" stroke-width="2.2" fill="#fff" />
<circle cx="600.8" cy="1105" r="4.5" stroke="#1a1a1a" stroke-width="2" fill="#fff"/>
<path d="M573.3,1117.5 L593.3,1117.5" stroke="#666" stroke-width="1.6" fill="none" />
<path d="M576.7,1068 L576.7,1118 M595,1068 L595,1118" stroke="#1a1a1a" stroke-width="2.2" fill="none" />
<path d="M604.2,1120 L604.2,1165 Q604.2,1178.3 617.5,1178.3 Q630.8,1178.3 630.8,1165 L630.8,1120" stroke="#1a1a1a" stroke-width="2.2" fill="#fff" />
<path d="M556.7,1096.7 C551,1097 548.3,1103 548.3,1108 L546.7,1120 C540,1128 528,1133 526.7,1143.3 C525,1158 536,1166.7 550,1166.7 C562,1166.7 574,1163 578.3,1158.3 L578.3,1130 C572,1124 568.3,1120 568.3,1116.7 C566,1108 565,1101.7 556.7,1096.7 Z" stroke="#1a1a1a" stroke-width="2.2" fill="#fff" />
<path d="M530,1157 C538,1165 560,1168 577,1160" stroke="#1a1a1a" stroke-width="1.2" fill="none" />
<ellipse cx="585.6" cy="1281.2" rx="59.5" ry="57.3" stroke="#1a1a1a" stroke-width="2.4" fill="#fff"/>
<ellipse cx="585.6" cy="1281.6" rx="56" ry="54" stroke="#444" stroke-width="1.2" fill="none"/>
<path d="M578.6,1281 L578.6,1104 A6.7,6.7 0 0 1 592,1104 L592,1281" stroke="#1a1a1a" stroke-width="2.2" fill="#fff" />
<circle cx="585.6" cy="1281.75" r="10.5" stroke="#1a1a1a" stroke-width="4.5" fill="#555"/>
<path d="M578.6,1274 L578.6,1281 A6.7,6.7 0 0 0 592,1281 L592,1274" stroke="#1a1a1a" stroke-width="2.2" fill="#fff" />
<path d="M572,1342 Q585,1336 598,1342 Z" fill="#1a1a1a"/>
</svg></body></html>
